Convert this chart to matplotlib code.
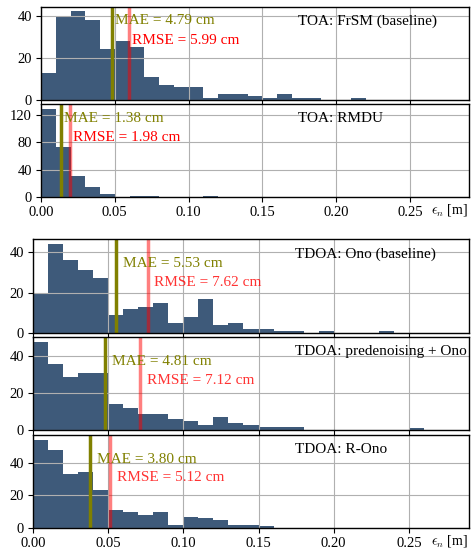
import numpy as np
import matplotlib
matplotlib.use("Agg")
import matplotlib.pyplot as plt

plt.rcParams.update({"font.family": "serif",
                     "font.serif": ["Liberation Serif", "DejaVu Serif"],
                     "mathtext.fontset": "cm",
                     "font.size": 11,
                     "axes.linewidth": 1.0})

# histogram bins of 1 cm, error in metres
bin_edges = np.round(np.arange(0, 0.295, 0.01), 2)

# counts per bin (0.00-0.01, 0.01-0.02, ...)
frsm_counts = [13, 40, 42, 38, 24, 28, 25, 11, 7, 6, 6, 1, 3, 3, 2, 1, 3, 1, 1, 0, 0, 1, 0, 0, 0, 0, 0, 0, 0]
rmdu_counts = [129, 73, 31, 14, 5, 0, 1, 1, 0, 0, 0, 1, 0, 0, 0, 0, 0, 0, 0, 0, 0, 0, 0, 0, 0, 0, 0, 0, 0]
ono_counts = [20, 44, 36, 31, 27, 9, 12, 13, 15, 5, 8, 17, 4, 5, 2, 2, 1, 1, 0, 1, 0, 0, 0, 1, 0, 0, 0, 0, 0]
pred_counts = [48, 36, 29, 31, 31, 14, 12, 9, 9, 6, 5, 3, 7, 4, 3, 2, 2, 2, 0, 0, 0, 0, 0, 0, 0, 1, 0, 0, 0]
rono_counts = [54, 48, 33, 34, 23, 11, 10, 8, 10, 2, 7, 6, 5, 2, 2, 1, 0, 0, 0, 0, 0, 0, 0, 0, 0, 0, 0, 0, 0]

toa_titles = ["TOA: FrSM (baseline)", "TOA: RMDU"]
toa_counts = [frsm_counts, rmdu_counts]
toa_mae = [4.79, 1.38]    # cm
toa_rmse = [5.99, 1.98]   # cm
toa_yticks = [[0, 20, 40], [0, 40, 80, 120]]

tdoa_titles = ["TDOA: Ono (baseline)", "TDOA: predenoising + Ono", "TDOA: R-Ono"]
tdoa_counts = [ono_counts, pred_counts, rono_counts]
tdoa_mae = [5.53, 4.81, 3.80]
tdoa_rmse = [7.62, 7.12, 5.12]
tdoa_yticks = [[0, 20, 40], [0, 20, 40], [0, 20, 40]]

BAR = "#3e5a7a"
W, H = 472, 550


def rect(l, t, r, b):
    return [l / W, 1 - b / H, (r - l) / W, (b - t) / H]


def panel(ax, counts, title, mae, rmse, yticks, dx, ymae, yrmse, rmse_alpha, last):
    ax.hist(bin_edges[:-1], bins=bin_edges, weights=counts, color=BAR)
    ax.axvline(mae / 100, color="olive", lw=2.5)
    ax.axvline(rmse / 100, color="red", alpha=0.5, lw=2.5)
    ax.text(mae / 100 + dx, ymae, f"MAE = {mae:.2f} cm", color="olive", fontsize=11,
            va="center", transform=ax.get_xaxis_transform())
    ax.text(rmse / 100 + dx, yrmse, f"RMSE = {rmse:.2f} cm", color="red", alpha=rmse_alpha,
            fontsize=11, va="center", transform=ax.get_xaxis_transform())
    ax.text(0.6, 0.845, title, fontsize=11, va="center", transform=ax.transAxes)
    ax.set_xlim(0, 0.29)
    ax.set_xticks([0.0, 0.05, 0.10, 0.15, 0.20, 0.25])
    ax.set_yticks(yticks)
    ax.tick_params(labelsize=10.5, pad=3)
    ax.grid(True)
    if last:
        ax.text(0.998, -0.14, r"$\epsilon_n$ [m]", fontsize=10, va="center", ha="right",
                transform=ax.transAxes)
    else:
        ax.tick_params(labelbottom=False)


fig = plt.figure(figsize=(W / 100, H / 100), dpi=100)

toa_rects = [rect(41, 7, 469, 100), rect(41, 104.5, 469, 197)]
for i in range(2):
    ax = fig.add_axes(toa_rects[i])
    panel(ax, toa_counts[i], toa_titles[i], toa_mae[i], toa_rmse[i], toa_yticks[i],
          0.002, 0.85, 0.645, 1.0, i == 1)

tdoa_rects = [rect(33, 239.3, 469, 333.3), rect(33, 337.3, 469, 430.3), rect(33, 435.3, 469, 528)]
for i in range(3):
    ax = fig.add_axes(tdoa_rects[i])
    panel(ax, tdoa_counts[i], tdoa_titles[i], tdoa_mae[i], tdoa_rmse[i], tdoa_yticks[i],
          0.0045, 0.74, 0.54, 0.8, i == 2)

fig.savefig("out.png", dpi=100)
print("saved out.png")
